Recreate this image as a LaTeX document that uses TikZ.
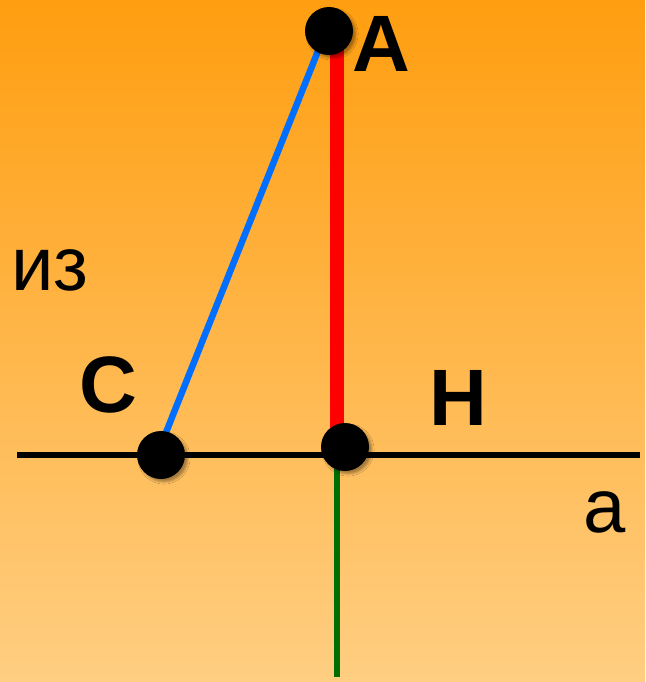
\documentclass[tikz,border=0pt]{standalone}
\usepackage{fontspec}
\setmainfont{Liberation Sans}
\usetikzlibrary{shadows.blur}

\definecolor{bgtop}{RGB}{255,158,16}
\definecolor{bgbot}{RGB}{255,206,130}
\definecolor{bluel}{RGB}{0,110,255}
\definecolor{greenl}{RGB}{0,110,0}

\begin{document}
\begin{tikzpicture}[x=1pt, y=-1pt,
  dot/.style={circle, fill=black, minimum size=48pt, inner sep=0pt,
    blur shadow={shadow xshift=3pt, shadow yshift=-3pt, shadow opacity=35}},
  ptlabel/.style={anchor=base, font=\fontsize{80}{80}\selectfont\bfseries},
  txtlabel/.style={anchor=base, font=\fontsize{76}{76}\selectfont},
  baseline/.style={line width=6pt, black},
  heightline/.style={line width=14pt, red},
  slantline/.style={line width=6.5pt, bluel},
  downline/.style={line width=6pt, greenl},
]
%% ── Background ──
\shade[top color=bgtop, bottom color=bgbot] (0,0) rectangle (645,682);
\useasboundingbox (0,0) rectangle (645,682);

%% ── Dots (drawn later on top) ──
\path (329,31)  coordinate (A)
      (161,455) coordinate (C)
      (345,447) coordinate (H);
%% ── Line ends ──
\coordinate (lend) at (17,455);
\coordinate (rend) at (640,455);
\coordinate (gend) at (337,677);

%% ── Lines ──
\draw[baseline] (lend) -- (rend);
\draw[downline] ([xshift=-8pt]H) -- (gend);
\draw[slantline] ([xshift=-3pt]A) -- ([xshift=-4pt]C);
\draw[heightline] ([xshift=8pt]A) -- ([xshift=-8pt]H);

\node[dot] (dA) at (A) {};
\node[dot] (dC) at (C) {};
\node[dot] (dH) at (H) {};

%% ── Labels ──
\node[ptlabel] (la) at (381,72)  {A};
\node[ptlabel] (lc) at (108,412) {C};
\node[ptlabel] (lh) at (458,425) {H};
\node[txtlabel] (liz) at (50,290) {из};
\node[txtlabel] (lline) at (605,532) {a};
\end{tikzpicture}
\end{document}
